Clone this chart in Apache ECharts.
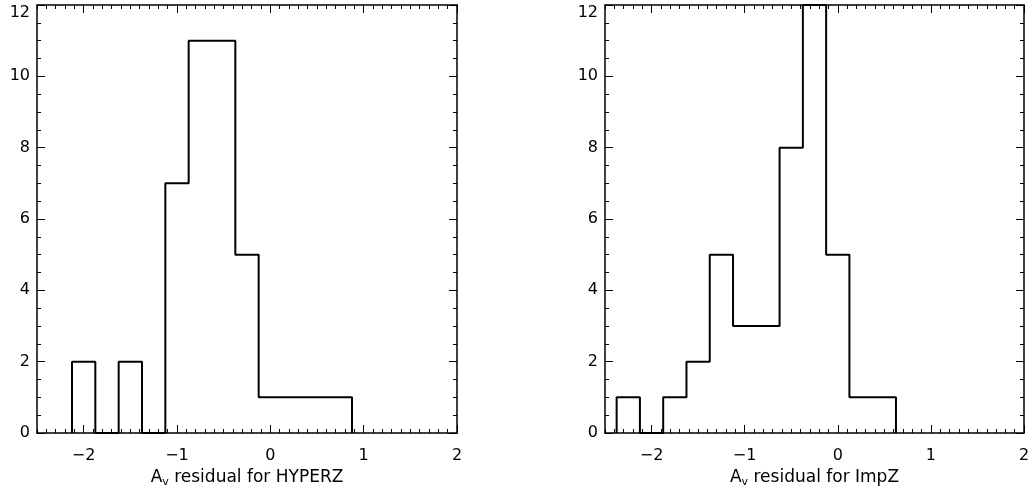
<!DOCTYPE html>
<html><head><meta charset="utf-8">
<script src="https://cdn.jsdelivr.net/npm/echarts@6/dist/echarts.min.js"></script>
<style>html,body{margin:0;padding:0;background:#fff}#c{width:1031px;height:491px}</style>
</head><body><div id="c"></div>
<script>
// Data
const hyperzEdges = [-2.125,-1.875,-1.625,-1.375,-1.125,-0.875,-0.625,-0.375,-0.125,0.125,0.375,0.625,0.875];
const hyperzCounts = [2,0,2,0,7,11,11,5,1,1,1,1];
const impzEdges = [-2.375,-2.125,-1.875,-1.625,-1.375,-1.125,-0.875,-0.625,-0.375,-0.125,0.125,0.375,0.625];
const impzCounts = [1,0,1,2,5,3,3,8,12,5,1,1];
const xTickValues = [-2,-1,0,1,2];
const panelNames = ['HYPERZ','ImpZ'];

function stepData(edges, counts){
  const d=[[edges[0],0]];
  for(let i=0;i<counts.length;i++) d.push([edges[i],counts[i]]);
  d.push([edges[edges.length-1],0]);
  return d;
}
const FONT='DejaVu Sans';
const black='#000';
const grids=[
  {left:37,top:5,width:420,height:428,outerBoundsMode:'none',containLabel:false},
  {left:605,top:5,width:419,height:428,outerBoundsMode:'none',containLabel:false}
];
const xAxes=[], yAxes=[];
function fmt(v){ return v<0 ? '\u2212'+Math.abs(v) : String(v); }
grids.forEach((g,gi)=>{
  const base={gridIndex:gi,type:'value',min:-2.5,max:2,splitLine:{show:false}};
  xAxes.push(Object.assign({},base,{position:'bottom',interval:0.1,
    axisLine:{show:true,onZero:false,lineStyle:{color:black,width:1.5}},
    axisTick:{show:true,inside:true,length:4,lineStyle:{color:black,width:1}},
    axisLabel:{show:false}}));
  xAxes.push(Object.assign({},base,{position:'bottom',interval:0.5,
    axisLine:{show:false,onZero:false},
    axisTick:{show:true,inside:true,length:8,customValues:xTickValues,lineStyle:{color:black,width:1}},
    axisLabel:{show:true,customValues:xTickValues,formatter:fmt,margin:15,color:black,fontFamily:FONT,fontSize:16},
    name:'{n|A}{s|v}{n| residual for '+panelNames[gi]+'}',nameLocation:'middle',nameGap:29,
    nameTextStyle:{rich:{n:{fontFamily:FONT,fontSize:17,color:black},s:{fontFamily:FONT,fontSize:11,color:black,verticalAlign:'bottom',padding:[10,0,0,0]}}}}));
  xAxes.push(Object.assign({},base,{position:'top',interval:0.1,
    axisLine:{show:true,onZero:false,lineStyle:{color:black,width:1.5}},
    axisTick:{show:true,inside:true,length:4,lineStyle:{color:black,width:1}},
    axisLabel:{show:false}}));
  xAxes.push(Object.assign({},base,{position:'top',interval:0.5,
    axisLine:{show:false,onZero:false},
    axisTick:{show:true,inside:true,length:8,customValues:xTickValues,lineStyle:{color:black,width:1}},
    axisLabel:{show:false}}));
  const ybase={gridIndex:gi,type:'value',min:0,max:12,interval:2,splitLine:{show:false},
    axisLine:{show:true,onZero:false,lineStyle:{color:black,width:1.5}},
    axisTick:{show:true,inside:true,length:8,lineStyle:{color:black,width:1}},
    minorTick:{show:true,splitNumber:4,length:4,lineStyle:{color:black,width:1}}};
  yAxes.push(Object.assign({},ybase,{position:'left',
    axisLabel:{show:true,margin:7,color:black,fontFamily:FONT,fontSize:16,verticalAlignMaxLabel:'top'}}));
  yAxes.push(Object.assign({},ybase,{position:'right',axisLabel:{show:false}}));
});
const chart=echarts.init(document.getElementById('c'),null,{renderer:'canvas'});
chart.setOption({
  animation:false,
  backgroundColor:'#fff',
  grid:grids,
  xAxis:xAxes,
  yAxis:yAxes,
  series:[
    {type:'line',step:'end',xAxisIndex:0,yAxisIndex:0,symbol:'none',clip:false,
     lineStyle:{color:black,width:2},data:stepData(hyperzEdges,hyperzCounts)},
    {type:'line',step:'end',xAxisIndex:4,yAxisIndex:2,symbol:'none',clip:false,
     lineStyle:{color:black,width:2},data:stepData(impzEdges,impzCounts)}
  ]
});
</script></body></html>
